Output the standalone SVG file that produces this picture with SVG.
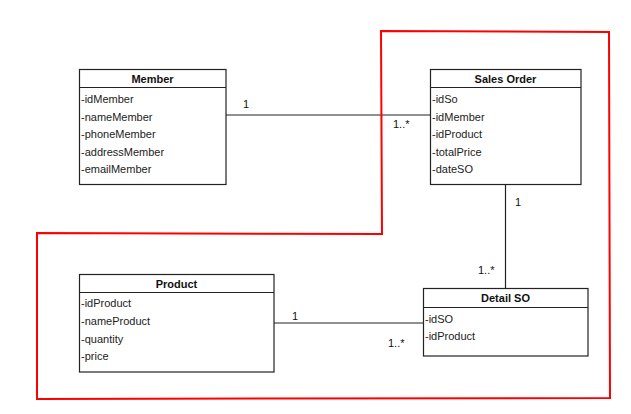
<svg xmlns="http://www.w3.org/2000/svg" width="631" height="414" viewBox="0 0 631 414">
<style>
.box{fill:#fff;stroke:#222;stroke-width:1.2}
.div{stroke:#222;stroke-width:1.2}
.t{font-family:"Liberation Sans",Arial,sans-serif;font-size:11px;font-weight:bold;fill:#111;text-anchor:middle}
.a{font-family:"Liberation Sans",Arial,sans-serif;font-size:11px;fill:#222}
.l{font-family:"Liberation Sans",Arial,sans-serif;font-size:11px;fill:#111}
.c{stroke:#222;stroke-width:1.2;fill:none}
</style>
<rect width="631" height="414" fill="#fff"/>
<g id="connectors">
<line class="c" x1="226" y1="115" x2="430" y2="115"/>
<line class="c" x1="505.5" y1="185" x2="505.5" y2="288"/>
<line class="c" x1="274" y1="323" x2="423" y2="323"/>
<text class="l" x="243" y="108">1</text>
<text class="l" x="393" y="128">1..*</text>
<text class="l" x="515" y="206">1</text>
<text class="l" x="478" y="274">1..*</text>
<text class="l" x="292" y="320">1</text>
<text class="l" x="388" y="347">1..*</text>
</g>
<g id="member">
<rect class="box" x="79.5" y="69.5" width="146.5" height="115"/>
<line class="div" x1="79.5" y1="87.5" x2="226" y2="87.5"/>
<text class="t" x="152.5" y="82.5">Member</text>
<text class="a" x="81" y="103">-idMember</text>
<text class="a" x="81" y="120.5">-nameMember</text>
<text class="a" x="81" y="138">-phoneMember</text>
<text class="a" x="81" y="155.5">-addressMember</text>
<text class="a" x="81" y="173">-emailMember</text>
</g>
<g id="sales-order">
<rect class="box" x="430.5" y="69.5" width="150.5" height="115"/>
<line class="div" x1="430.5" y1="87.5" x2="581" y2="87.5"/>
<text class="t" x="505.5" y="82.5">Sales Order</text>
<text class="a" x="432" y="103">-idSo</text>
<text class="a" x="432" y="120.5">-idMember</text>
<text class="a" x="432" y="138">-idProduct</text>
<text class="a" x="432" y="155.5">-totalPrice</text>
<text class="a" x="432" y="173">-dateSO</text>
</g>
<g id="product">
<rect class="box" x="79.5" y="274.5" width="194.5" height="97.5"/>
<line class="div" x1="79.5" y1="292.5" x2="274" y2="292.5"/>
<text class="t" x="176.5" y="287.5">Product</text>
<text class="a" x="81" y="307">-idProduct</text>
<text class="a" x="81" y="325">-nameProduct</text>
<text class="a" x="81" y="342.5">-quantity</text>
<text class="a" x="81" y="360">-price</text>
</g>
<g id="detail-so">
<rect class="box" x="423.5" y="288.5" width="164.5" height="67.5"/>
<line class="div" x1="423.5" y1="307.5" x2="588" y2="307.5"/>
<text class="t" x="505.5" y="302">Detail SO</text>
<text class="a" x="425" y="322.5">-idSO</text>
<text class="a" x="425" y="340">-idProduct</text>
</g>
<polygon points="381,31 609,32 610,398 37,399 37,233 382,234" fill="none" stroke="#f00" stroke-width="2"/>
</svg>
